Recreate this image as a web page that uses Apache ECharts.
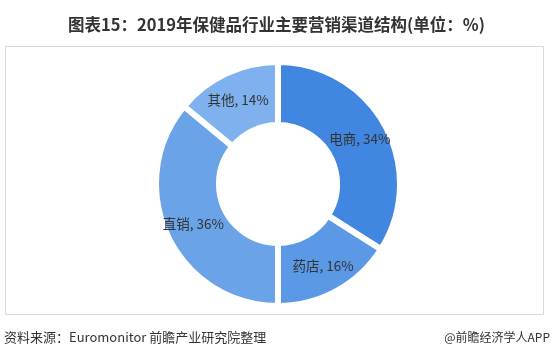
<!DOCTYPE html>
<html>
<head>
<meta charset="utf-8">
<script src="https://cdn.jsdelivr.net/npm/echarts@6/dist/echarts.min.js"></script>
<style>
html,body{margin:0;padding:0;background:#fff;}
#c{width:553px;height:360px;}
</style>
</head>
<body>
<div id="c"></div>
<script>
const categories = ['电商', '药店', '直销', '其他'];
const values = [34, 16, 36, 14];
const colors = ['#4186e0', '#5b98e6', '#6ba3e9', '#7eb1ee'];
const titleText = '图表15：2019年保健品行业主要营销渠道结构(单位：%)';
const sourceText = '资料来源：Euromonitor 前瞻产业研究院整理';
const brandText = '@前瞻经济学人APP';

const chart = echarts.init(document.getElementById('c'), null, {renderer: 'canvas'});
const font = '"Microsoft YaHei","Noto Sans CJK SC",sans-serif';
chart.setOption({
  animation: false,
  backgroundColor: '#fff',
  title: {
    text: titleText,
    left: 'center',
    top: 11,
    textStyle: {fontFamily: font, fontSize: 16.5, fontWeight: 'bold', color: '#333'}
  },
  graphic: [
    {type: 'rect', shape: {x: 5.5, y: 46.5, width: 538, height: 268},
     style: {fill: 'none', stroke: '#d9d9d9', lineWidth: 1}, z: -1},
    {type: 'text', left: 4, top: 331,
     style: {text: sourceText, font: '13px ' + font, fill: '#333'}},
    {type: 'text', right: 3, top: 331,
     style: {text: brandText, font: '12px ' + font, fill: '#333'}}
  ],
  series: [{
    type: 'pie',
    center: [278, 184],
    radius: [59, 122],
    startAngle: 90,
    clockwise: true,
    avoidLabelOverlap: false,
    itemStyle: {borderColor: '#fff', borderWidth: 6},
    label: {
      show: true,
      position: 'inside',
      formatter: p => p.name + ', ' + p.value + '%',
      fontFamily: font,
      fontSize: 13.5,
      color: '#333'
    },
    labelLine: {show: false},
    emphasis: {disabled: true},
    data: categories.map((n, i) => ({name: n, value: values[i], itemStyle: {color: colors[i]}}))
  }]
});
</script>
</body>
</html>
